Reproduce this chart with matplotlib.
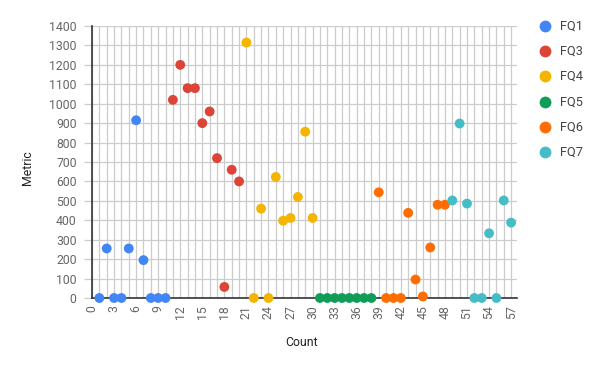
import matplotlib.pyplot as plt
from matplotlib.lines import Line2D

plt.rcParams['font.family'] = ['Roboto', 'DejaVu Sans']

# --- DATA ---
series_names = ["FQ1", "FQ3", "FQ4", "FQ5", "FQ6", "FQ7"]
colors = ["#4285F4", "#DB4437", "#F4B400", "#0F9D58", "#FF6D00", "#46BDC6"]

fq1_x = [1, 2, 3, 4, 5, 6, 7, 8, 9, 10]
fq1_y = [0, 255, 0, 0, 255, 915, 195, 0, 0, 0]

fq3_x = [11, 12, 13, 14, 15, 16, 17, 18, 19, 20]
fq3_y = [1020, 1200, 1080, 1080, 900, 960, 720, 57, 660, 600]

fq4_x = [21, 22, 23, 24, 25, 26, 27, 28, 29, 30]
fq4_y = [1315, 0, 460, 0, 623, 398, 412, 520, 856, 412]

fq5_x = [31, 32, 33, 34, 35, 36, 37, 38]
fq5_y = [0, 0, 0, 0, 0, 0, 0, 0]

fq6_x = [39, 40, 41, 42, 43, 44, 45, 46, 47, 48]
fq6_y = [544, 0, 0, 0, 438, 95, 8, 260, 480, 480]

fq7_x = [49, 50, 51, 52, 53, 54, 55, 56, 57]
fq7_y = [502, 898, 486, 0, 0, 333, 0, 502, 388]

xs = [fq1_x, fq3_x, fq4_x, fq5_x, fq6_x, fq7_x]
ys = [fq1_y, fq3_y, fq4_y, fq5_y, fq6_y, fq7_y]

x_ticks = list(range(0, 58, 3))
y_ticks = list(range(0, 1401, 100))

# --- FIGURE ---
fig = plt.figure(figsize=(6.0, 3.71), dpi=100)
ax = fig.add_axes([92 / 600, 1 - 298 / 371, 425 / 600, 272 / 371])

for x, y, c, name in zip(xs, ys, colors, series_names):
    ax.scatter(x, y, s=50, color=c, edgecolors='none', zorder=3, clip_on=False, label=name)

ax.set_xlim(0, 57.8)
ax.set_ylim(0, 1400)

ax.set_xticks(x_ticks)
ax.set_xticks(range(0, 58), minor=True)
ax.set_yticks(y_ticks)

ax.grid(True, which='both', axis='x', color='#cccccc', linewidth=0.9, zorder=0)
ax.grid(True, which='major', axis='y', color='#cccccc', linewidth=0.9, zorder=0)
ax.set_axisbelow(True)

ax.tick_params(axis='x', which='both', length=0, pad=5, labelsize=8.8,
               labelcolor='#666666', labelrotation=90)
ax.tick_params(axis='y', length=6, color='#cccccc', width=0.9, pad=5,
               labelsize=8.8, labelcolor='#666666')

for side in ['top', 'right']:
    ax.spines[side].set_visible(False)
for side in ['left', 'bottom']:
    ax.spines[side].set_color('#333333')
    ax.spines[side].set_linewidth(1.2)
    ax.spines[side].set_zorder(2)

fig.text(302 / 600, 1 - 343 / 371, "Count", ha='center', va='center',
         fontsize=8.8, color='#222222')
fig.text(27 / 600, 1 - 168 / 371, "Metric", ha='center', va='center',
         fontsize=8.8, color='#222222', rotation=90)

# legend drawn manually at the right
for i, (name, c) in enumerate(zip(series_names, colors)):
    yy = 1 - (26 + i * 25.2) / 371
    fig.add_artist(Line2D([545 / 600], [yy], marker='o', markersize=8.5,
                          color=c, markeredgewidth=0, linestyle='none'))
    fig.text(560 / 600, yy, name, ha='left', va='center', fontsize=9.2, color='#444444')

fig.savefig("out.png", dpi=100)
